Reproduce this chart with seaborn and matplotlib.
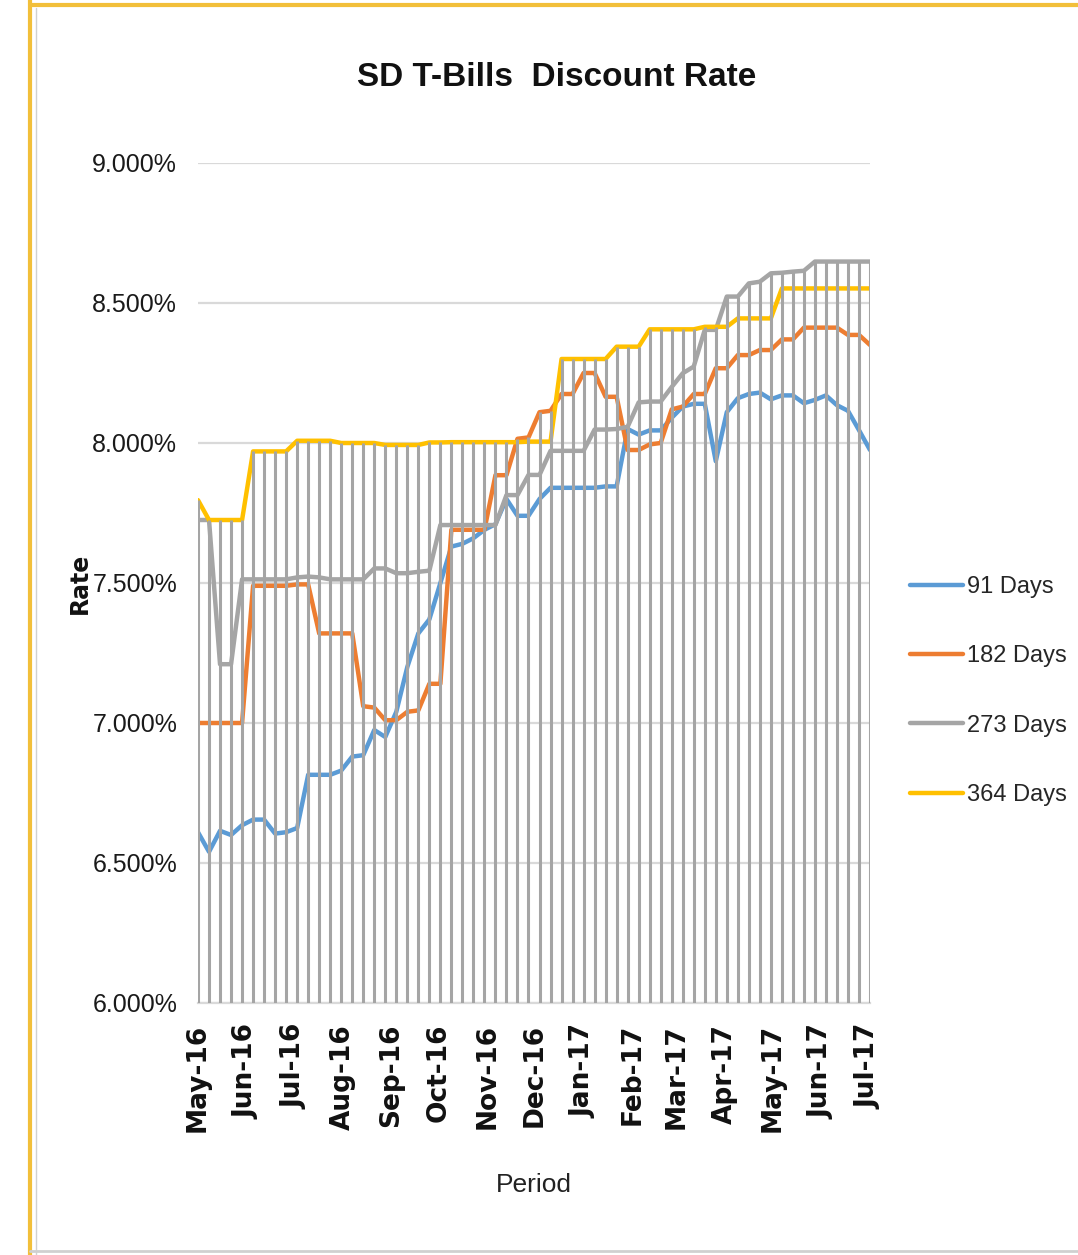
import matplotlib
matplotlib.use("Agg")
import matplotlib.pyplot as plt
import matplotlib.dates as mdates
from matplotlib.lines import Line2D
import numpy as np
import pandas as pd
import seaborn as sns

# weekly auction dates, May-16 .. Jul-17
dates = pd.date_range("2016-05-01", periods=62, freq="7D")

days_91 = [6.61, 6.54, 6.615, 6.60, 6.635, 6.655, 6.655, 6.605, 6.61, 6.625,
           6.815, 6.815, 6.815, 6.83, 6.88, 6.885, 6.975, 6.95, 7.04, 7.20,
           7.32, 7.37, 7.50, 7.63, 7.64, 7.66, 7.69, 7.71, 7.80, 7.74,
           7.74, 7.80, 7.84, 7.84, 7.84, 7.84, 7.84, 7.845, 7.845, 8.05,
           8.03, 8.045, 8.045, 8.09, 8.13, 8.14, 8.14, 7.935, 8.11, 8.16,
           8.175, 8.18, 8.156, 8.17, 8.17, 8.142, 8.154, 8.17, 8.135, 8.115,
           8.046, 7.975]
days_182 = [7.00, 7.00, 7.00, 7.00, 7.00, 7.49, 7.49, 7.49, 7.49, 7.495,
            7.495, 7.32, 7.32, 7.32, 7.32, 7.06, 7.055, 7.01, 7.01, 7.04,
            7.045, 7.14, 7.14, 7.69, 7.69, 7.69, 7.69, 7.885, 7.885, 8.015,
            8.02, 8.11, 8.115, 8.175, 8.175, 8.25, 8.25, 8.165, 8.165, 7.975,
            7.975, 7.995, 8.00, 8.12, 8.13, 8.175, 8.175, 8.267, 8.267, 8.314,
            8.314, 8.332, 8.332, 8.37, 8.37, 8.412, 8.412, 8.412, 8.412, 8.386,
            8.386, 8.35]
days_273 = [7.725, 7.725, 7.21, 7.21, 7.513, 7.513, 7.513, 7.513, 7.513, 7.52,
            7.523, 7.52, 7.513, 7.513, 7.513, 7.513, 7.552, 7.552, 7.535, 7.535,
            7.54, 7.544, 7.707, 7.707, 7.707, 7.707, 7.707, 7.707, 7.814, 7.814,
            7.886, 7.886, 7.972, 7.972, 7.972, 7.972, 8.048, 8.048, 8.05, 8.058,
            8.145, 8.148, 8.148, 8.20, 8.249, 8.273, 8.404, 8.404, 8.523, 8.523,
            8.57, 8.576, 8.606, 8.608, 8.612, 8.615, 8.648, 8.648, 8.648, 8.648,
            8.648, 8.648]
days_364 = [7.796, 7.725, 7.725, 7.725, 7.725, 7.97, 7.97, 7.97, 7.97, 8.008,
            8.008, 8.008, 8.008, 8.00, 8.00, 8.00, 8.00, 7.993, 7.993, 7.993,
            7.993, 8.002, 8.002, 8.003, 8.003, 8.003, 8.003, 8.003, 8.003, 8.003,
            8.005, 8.005, 8.005, 8.30, 8.30, 8.30, 8.30, 8.30, 8.344, 8.344,
            8.344, 8.406, 8.406, 8.406, 8.406, 8.406, 8.415, 8.415, 8.415, 8.445,
            8.445, 8.445, 8.445, 8.552, 8.552, 8.552, 8.552, 8.552, 8.552, 8.552,
            8.552, 8.552]

series_names = ["91 Days", "182 Days", "273 Days", "364 Days"]
series_colors = ["#5B9BD5", "#ED7D31", "#A5A5A5", "#FFC000"]

df = pd.DataFrame({"date": dates, "91 Days": days_91, "182 Days": days_182,
                   "273 Days": days_273, "364 Days": days_364})
long_df = df.melt(id_vars="date", var_name="tenor", value_name="rate")

sns.set_theme(style="white")
narrow = ["Liberation Sans", "DejaVu Sans"]
plt.rcParams["font.family"] = narrow

fig = plt.figure(figsize=(10.78, 12.55), dpi=100)
ax = fig.add_axes([198 / 1078, 1 - 1003 / 1255, 672 / 1078, 840 / 1255])

sns.lineplot(data=long_df, x="date", y="rate", hue="tenor", hue_order=series_names,
             palette=series_colors, linewidth=3.2, ax=ax, zorder=2)

# drop lines from the highest series down to the axis
top = df[series_names].max(axis=1)
ax.vlines(df["date"], 6.0, top, color="#A5A5A5", linewidth=2.2, zorder=3)

ax.set_ylim(6.0, 9.0)
ax.set_yticks(np.arange(6.0, 9.01, 0.5))
ax.set_yticklabels([f"{v:.3f}%" for v in np.arange(6.0, 9.01, 0.5)])
ax.set_xlim(dates[0], dates[-1])
ax.xaxis.set_major_locator(mdates.MonthLocator())
ax.xaxis.set_major_formatter(mdates.DateFormatter("%b-%y"))

ax.grid(axis="y", color="#D9D9D9", linewidth=1.6, zorder=0)
ax.grid(axis="x", visible=False)
for side in ["left", "right", "top"]:
    ax.spines[side].set_visible(False)
ax.spines["bottom"].set_color("#D9D9D9")
ax.spines["bottom"].set_linewidth(1.6)

ax.tick_params(axis="y", length=0, pad=15, labelsize=18, labelcolor="#1a1a1a")
ax.tick_params(axis="x", length=0, pad=15)
for lbl in ax.get_xticklabels():
    lbl.set_rotation(90)
    lbl.set_family("DejaVu Sans")
    lbl.set_fontsize(19)
    lbl.set_fontweight("bold")
    lbl.set_color("#111111")

ax.set_xlabel("")
ax.set_ylabel("")

handles, labels = ax.get_legend_handles_labels()
if ax.get_legend() is not None:
    ax.get_legend().remove()
fig.legend(handles, labels, loc="center left", bbox_to_anchor=(910 / 1078, 1 - 691 / 1255),
           frameon=False, prop={"family": narrow, "size": 17},
           handlelength=2.25, handletextpad=0.15, labelspacing=2.0, borderpad=0, borderaxespad=0)

fig.text(557 / 1078, 1 - 78 / 1255, "SD T-Bills  Discount Rate", ha="center", va="center",
         fontsize=24, fontweight="bold", color="#111111")
fig.text(80 / 1078, 1 - 583 / 1255, "Rate", ha="center", va="center", rotation=90,
         fontsize=17, fontweight="bold", family="DejaVu Sans", color="#111111")
fig.text(534 / 1078, 1 - 1185 / 1255, "Period", ha="center", va="center",
         fontsize=19, color="#222222")

# chart frame
fig.add_artist(Line2D([30 / 1078, 30 / 1078], [0, 1], transform=fig.transFigure,
                      color="#F2BF3A", linewidth=3))
fig.add_artist(Line2D([30 / 1078, 1], [1 - 5 / 1255, 1 - 5 / 1255], transform=fig.transFigure,
                      color="#F2BF3A", linewidth=3))
fig.add_artist(Line2D([36 / 1078, 36 / 1078], [0, 1 - 8 / 1255], transform=fig.transFigure,
                      color="#D0D0D0", linewidth=1))
fig.add_artist(Line2D([30 / 1078, 1], [1 - 1251 / 1255, 1 - 1251 / 1255], transform=fig.transFigure,
                      color="#D0D0D0", linewidth=2))

fig.savefig("out.png", dpi=100)
